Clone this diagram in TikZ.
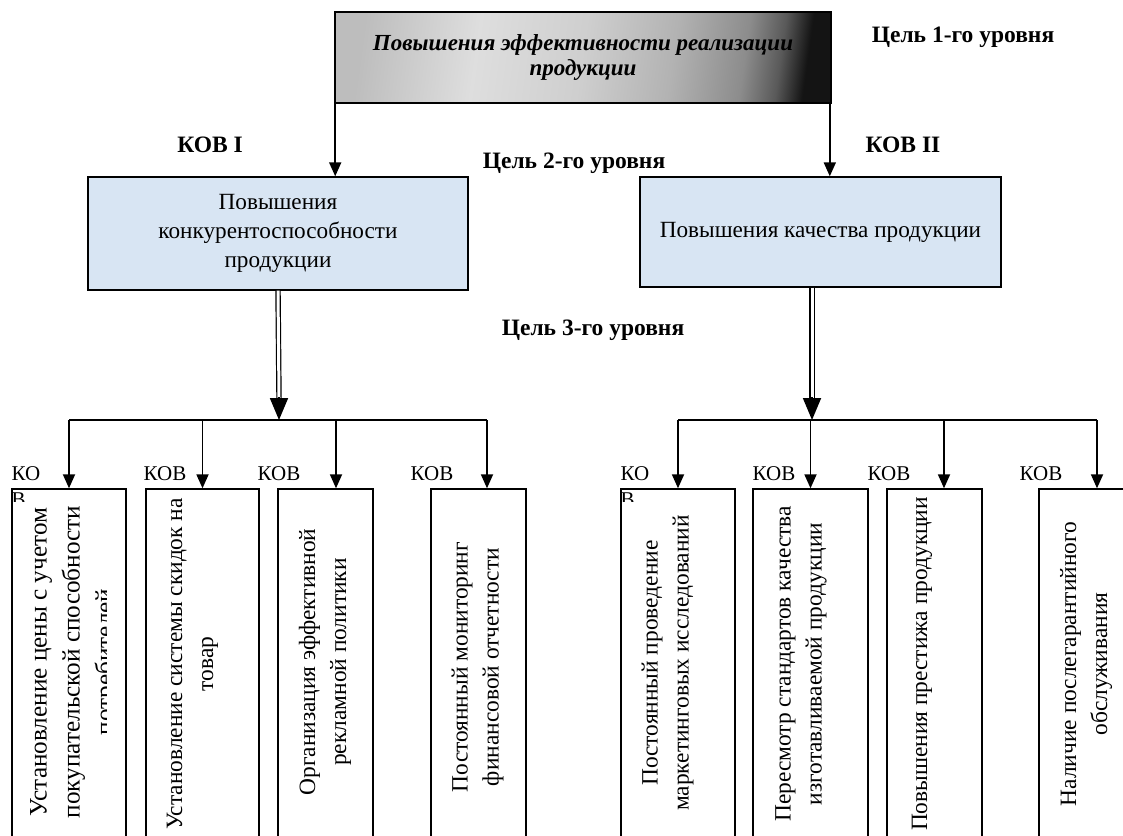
\documentclass[tikz,border=0pt]{standalone}
\usepackage{fontspec}
\setmainfont{Liberation Serif}
\usetikzlibrary{positioning, calc, arrows.meta}

\definecolor{paleblue}{RGB}{216,229,243}
\pgfdeclarehorizontalshading{titleshade}{100bp}{color(0bp)=(black!26); color(25bp)=(black!26); color(38bp)=(black!13); color(50bp)=(black!19); color(60bp)=(black!30); color(68bp)=(black!45); color(72bp)=(black!65); color(75bp)=(black!92); color(100bp)=(black!92)}

\begin{document}
\begin{tikzpicture}[x=0.5pt, y=-0.5pt,
		topbox/.style={rectangle, draw, line width=0.8pt, inner sep=0pt, shade, shading=titleshade, shading angle=-8, align=center, font=\fontsize{11.5}{12.5}\selectfont\bfseries\itshape, minimum width=248pt, minimum height=45.5pt},
		goalbox/.style={rectangle, draw, line width=0.7pt, inner sep=0pt, fill=paleblue, align=center, font=\fontsize{11.6}{14.5}\selectfont},
		taskbox/.style={rectangle, draw, line width=0.7pt, fill=white, inner sep=0pt, minimum height=178pt},
		tasktext/.style={rotate=90, align=center, inner sep=0pt, font=\fontsize{11.7}{15.5}\selectfont},
		levellabel/.style={font=\fontsize{11.75}{14}\selectfont\bfseries, inner sep=0pt},
		kovlabel/.style={font=\fontsize{10.5}{12}\selectfont, inner sep=0pt, anchor=base west},
		tip/.style={line width=0.9pt, -{Triangle[length=7pt, width=6pt]}},
		dbl/.style={double, double distance=1.5pt, line width=0.6pt},
		bigtip/.style={line width=0.9pt, -{Triangle[length=11pt, width=9pt]}}
	]
	\useasboundingbox (0,0) rectangle (1123,835);

	% level 1
	\node[topbox] (top) at (583,57.5) {Повышения эффективности реализации\\продукции};
	\node[levellabel] (goal1) at (963,37) {Цель 1-го уровня};

	% level 2
	\node[goalbox, minimum width=190pt, minimum height=56.5pt] (comp) at (278,233.5) {Повышения\\конкурентоспособности\\продукции};
	\node[goalbox, minimum width=180.5pt, minimum height=55pt] (qual) at (820.5,232) {Повышения качества продукции};
	\node[levellabel] (kov1) at (210,145) {КОВ I};
	\node[levellabel] (kov2) at (903,145) {КОВ II};
	\node[levellabel] (goal2) at (574,163) {Цель 2-го уровня};
	\node[levellabel] (goal3) at (593,330) {Цель 3-го уровня};

	\coordinate (topL) at ([xshift=0.5pt]top.south west);
	\coordinate (topR) at ([xshift=-1pt]top.south east);
	\draw[tip] (topL) -- (topL |- comp.north);
	\draw[tip] (topR) -- (topR |- qual.north);

	% level 3
	\foreach \nm/\cx/\w in {t1/69/57, t2/202.5/56.5, t3/325.5/47.5, t4/478.5/47.5, t5/678/57, t6/810.5/57.5, t7/934.5/47.5, t8/1086.5/47.5}
		\node[taskbox, minimum width=\w pt] (\nm) at (\cx,667) {};

	\begin{scope}
		\clip (12,489) rectangle (106,835);
		\node[tasktext, font=\fontsize{12.6}{16.5}\selectfont] (x1) at (74,662) {Установление цены с учетом\\покупательской способности\\потребителей};
	\end{scope}
	\node[tasktext] (x2) at (192.5,664) {Установление системы скидок на\\товар};
	\node[tasktext] (x3) at (325,662) {Организация эффективной\\рекламной политики};
	\node[tasktext] (x4) at (477.5,667) {Постоянный мониторинг\\финансовой отчетности};
	\node[tasktext] (x5) at (667.5,663) {Постоянный проведение\\маркетинговых исследований};
	\node[tasktext] (x6) at (801,664) {Пересмотр стандартов качества\\изготавливаемой продукции};
	\node[tasktext] (x7) at (922,664) {Повышения престижа продукции};
	\node[tasktext] (x8) at (1086,664) {Наличие послегарантийного\\обслуживания};

	% labels over the boxes
	\foreach \nm/\s in {t2/-1, t3/-10, t4/-10, t6/0, t7/-9.5, t8/-9.5}
		\node[kovlabel] at ([xshift=\s pt, yshift=4pt]\nm.north west) {КОВ};
	\foreach \nm in {t1, t5} {
		\node[kovlabel] at ([yshift=4pt]\nm.north west) {КО};
		\begin{scope}
			\clip ([yshift=1pt]\nm.north west) rectangle ([xshift=20pt, yshift=-6.5pt]\nm.north west);
			\node[kovlabel] at ([yshift=-9pt]\nm.north west) {В};
		\end{scope}
	}

	% branches
	\coordinate (lbar) at (279,420);
	\coordinate (rbar) at (812,420);
	\coordinate (rsrc) at (qual.south -| rbar);
	\draw[dbl] (comp.south) -- ([yshift=11pt]lbar);
	\draw[bigtip] ([yshift=11.5pt]lbar) -- (lbar);
	\draw[dbl] (rsrc) -- ([yshift=11pt]rbar);
	\draw[bigtip] ([yshift=11.5pt]rbar) -- (rbar);

	\foreach \nm/\s in {t1/0, t2/0, t3/5.25, t4/4.25, t5/0, t6/0, t7/4.75, t8/5.25}
		\coordinate (\nm-in) at ([xshift=\s pt]\nm.north);
	\draw[line width=0.9pt] (t1-in |- lbar) -- (t4-in |- lbar);
	\draw[line width=0.9pt] (t5-in |- rbar) -- (t8-in |- rbar);
	\foreach \nm in {t1, t2, t3, t4, t5, t6, t7, t8}
		\draw[tip] (\nm-in |- lbar) -- (\nm-in);

\end{tikzpicture}
\end{document}
